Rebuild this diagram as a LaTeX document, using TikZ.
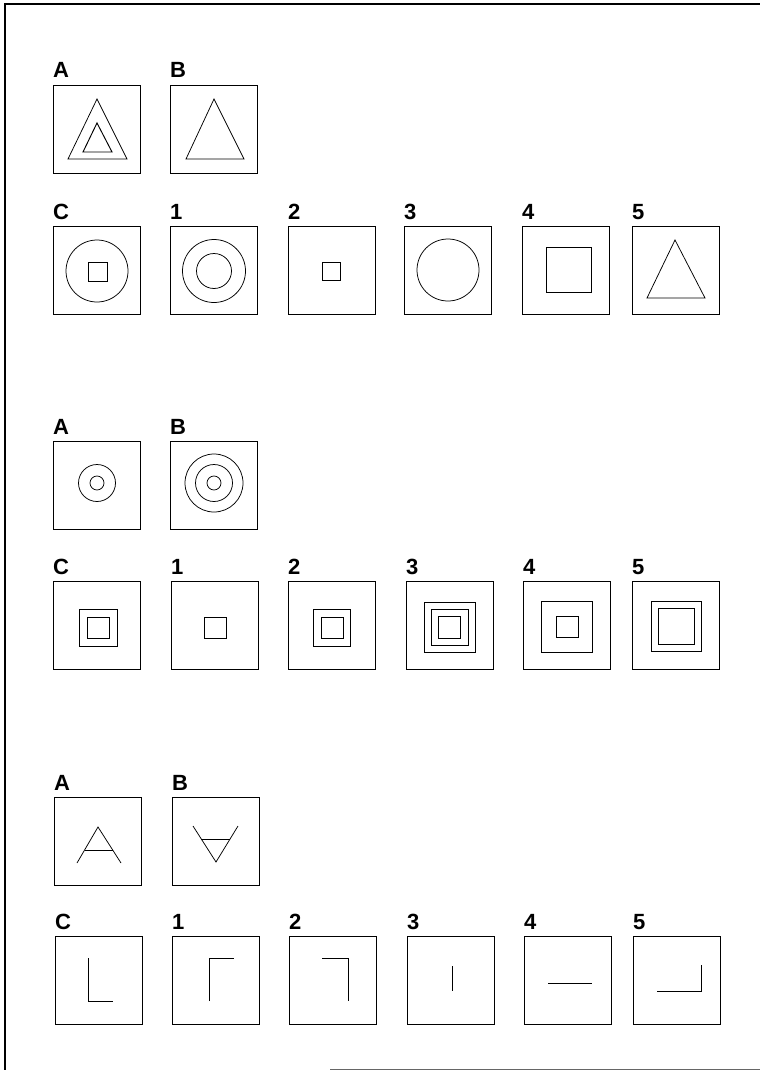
\documentclass[tikz,border=0pt]{standalone}
\usepackage{fontspec}
\setmainfont{Liberation Sans}
\begin{document}
\begin{tikzpicture}[x=1pt,y=-1pt,
  panel/.style={draw,line width=0.9pt,minimum width=87pt,minimum height=88pt,inner sep=0pt,anchor=north west},
  lbl/.style={font=\fontsize{22}{22}\selectfont\bfseries,anchor=base west,inner sep=0pt},
  fig/.style={line width=0.75pt},
  figb/.style={line width=0.95pt},
  frame/.style={line width=1.5pt}]
\useasboundingbox (0,0) rectangle (760,1070);
\newcommand\pnl[4]{\node[panel] (#1) at (#2,#3) {}; \node[lbl] (#1l) at ([yshift=7pt]#1.north west) {#4};}
% frame
\draw[frame] (5,1070) -- (5,4) -- (760,4);
\draw[line width=1pt,black!60] (330,1069) -- (760,1069);
% ---------------- section 1
\pnl{aA}{53}{85}{A}
\pnl{aB}{170}{85}{B}
\pnl{aC}{53}{226}{C}
\pnl{a1}{170}{226}{1}
\pnl{a2}{288}{226}{2}
\pnl{a3}{404}{226}{3}
\pnl{a4}{522}{226}{4}
\pnl{a5}{632}{226}{5}
\draw[fig] (97,99) -- (127,159) -- (68,159) -- cycle;
\draw[figb] (97,123) -- (112,152) -- (83,152) -- cycle;
\draw[fig] (214,99) -- (244,159) -- (186,159) -- cycle;
\draw[fig] (97,271) circle[radius=31pt];
\draw[fig] (88,262) rectangle (107,281);
\draw[fig] (214,271) circle[radius=31.5pt];
\draw[fig] (214,271) circle[radius=17.5pt];
\draw[figb] (322,262) rectangle (340,280);
\draw[fig] (448,270) circle[radius=31pt];
\draw[fig] (546,247) rectangle (591,292);
\draw[fig] (675,240) -- (705,298) -- (647,298) -- cycle;
% ---------------- section 2
\pnl{bA}{53}{441}{A}
\pnl{bB}{170}{441}{B}
\pnl{bC}{53}{581}{C}
\pnl{b1}{171}{581}{1}
\pnl{b2}{288}{581}{2}
\pnl{b3}{406}{581}{3}
\pnl{b4}{523}{581}{4}
\pnl{b5}{632}{581}{5}
\draw[fig] (97,483) circle[radius=18.5pt];
\draw[fig] (97,483) circle[radius=7pt];
\draw[fig] (214,483) circle[radius=29pt];
\draw[fig] (214,483) circle[radius=18.5pt];
\draw[fig] (214,483) circle[radius=7pt];
\draw[fig] (79,609) rectangle (117,646);
\draw[figb] (87,617) rectangle (109,638);
\draw[fig] (204,617) rectangle (226,638);
\draw[fig] (313,609) rectangle (350,646);
\draw[figb] (321,617) rectangle (343,638);
\draw[figb] (424,602) rectangle (475,652);
\draw[fig] (431,609) rectangle (468,645);
\draw[figb] (438,616) rectangle (460,638);
\draw[figb] (541,601) rectangle (592,652);
\draw[fig] (556,616) rectangle (578,637);
\draw[fig] (651,601) rectangle (701,651);
\draw[figb] (658,608) rectangle (694,644);
% ---------------- section 3
\pnl{cA}{54}{797}{A}
\pnl{cB}{172}{797}{B}
\pnl{cC}{55}{936}{C}
\pnl{c1}{172}{936}{1}
\pnl{c2}{289}{936}{2}
\pnl{c3}{407}{936}{3}
\pnl{c4}{524}{936}{4}
\pnl{c5}{633}{936}{5}
\draw[fig] (77,863) -- (98,827) -- (121,863);
\draw[figb] (84.6,850) -- (112.7,850);
\draw[fig] (193,826) -- (216,862) -- (238,826);
\draw[figb] (201.3,839) -- (230,839);
\draw[fig] (88,958) -- (88,1001) -- (113,1001);
\draw[fig] (209,1001) -- (209,958) -- (234,958);
\draw[fig] (322,958) -- (348,958) -- (348,1001);
\draw[fig] (452,966) -- (452,991);
\draw[fig] (548,983) -- (592,983);
\draw[fig] (657,991) -- (701,991) -- (701,965);
\end{tikzpicture}
\end{document}
